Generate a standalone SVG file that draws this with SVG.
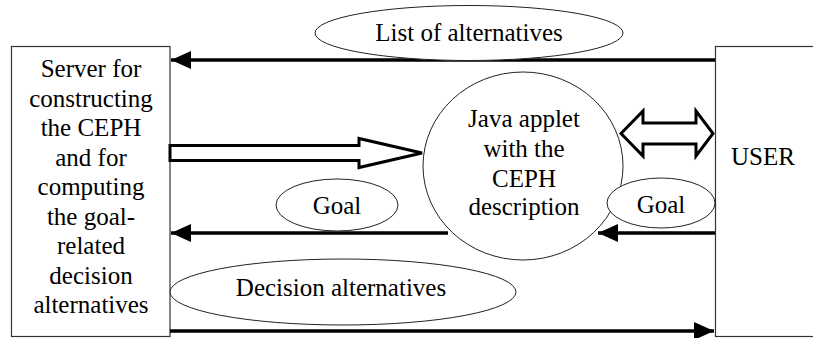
<svg xmlns="http://www.w3.org/2000/svg" width="813" height="338" viewBox="0 0 813 338">
  <defs>
    <style>
      .box { fill: #fff; stroke: #333; stroke-width: 1.2; }
      .oval { fill: #fff; stroke: #222; stroke-width: 1; }
      .lbl { font-family: 'Liberation Serif', 'DejaVu Serif', serif; font-size: 25px; fill: #000; text-anchor: middle; }
      .flow { fill: none; stroke: #000; stroke-width: 3.5; }
      .hollow { fill: #fff; stroke: #000; stroke-width: 3; stroke-linejoin: miter; }
    </style>
    <marker id="head" markerUnits="userSpaceOnUse" markerWidth="22" markerHeight="20" refX="20" refY="9" orient="auto">
      <path d="M0,0 L20,9 L0,18 Z" fill="#000"/>
    </marker>
  </defs>

  <rect width="813" height="338" fill="#fff"/>

  <!-- Server node -->
  <g id="server" font-family="Liberation Serif, serif">
    <rect class="box" x="11.5" y="46.5" width="158.5" height="290"/>
    <text class="lbl" x="91" y="77">Server for</text>
    <text class="lbl" x="91" y="106.5">constructing</text>
    <text class="lbl" x="91" y="136">the CEPH</text>
    <text class="lbl" x="91" y="165.5">and for</text>
    <text class="lbl" x="91" y="195">computing</text>
    <text class="lbl" x="91" y="224.5">the goal-</text>
    <text class="lbl" x="91" y="254">related</text>
    <text class="lbl" x="91" y="283.5">decision</text>
    <text class="lbl" x="91" y="313">alternatives</text>
  </g>

  <!-- User node -->
  <g id="user">
    <rect class="box" x="715.5" y="46.5" width="110" height="290"/>
    <text class="lbl" x="763" y="165">USER</text>
  </g>

  <!-- Connectors -->
  <g id="connectors">
    <line class="flow" x1="715" y1="60" x2="171" y2="60" marker-end="url(#head)"/>
    <line class="flow" x1="448" y1="233" x2="171" y2="233" marker-end="url(#head)"/>
    <line class="flow" x1="715" y1="233" x2="598" y2="233" marker-end="url(#head)"/>
    <line class="flow" x1="170" y1="331" x2="714" y2="331" marker-end="url(#head)"/>
    <!-- wide hollow arrow: server to applet -->
    <path class="hollow" d="M170,145.5 L359,145.5 L359,138.5 L422,153 L359,167.5 L359,160.5 L170,160.5 Z"/>
    <!-- two-way hollow arrow: applet and user -->
    <path class="hollow" d="M621,133.5 L643,111 L643,123 L696,123 L696,111 L713,133.5 L696,156 L696,144 L643,144 L643,156 Z"/>
  </g>

  <!-- Java applet node -->
  <g id="applet">
    <ellipse class="oval" cx="523" cy="166" rx="100" ry="94" style="fill:none"/>
    <text class="lbl" x="524" y="127">Java applet</text>
    <text class="lbl" x="524" y="157">with the</text>
    <text class="lbl" x="524" y="186.5">CEPH</text>
    <text class="lbl" x="524" y="215">description</text>
  </g>

  <!-- Edge labels -->
  <g id="label-list">
    <ellipse class="oval" cx="469" cy="33" rx="154" ry="27.5"/>
    <text class="lbl" x="469" y="41">List of alternatives</text>
  </g>
  <g id="label-goal-left">
    <ellipse class="oval" cx="337" cy="205" rx="61" ry="26"/>
    <text class="lbl" x="337" y="214">Goal</text>
  </g>
  <g id="label-goal-right">
    <ellipse class="oval" cx="661" cy="203" rx="54" ry="25"/>
    <text class="lbl" x="661" y="213">Goal</text>
  </g>
  <g id="label-decision">
    <ellipse class="oval" cx="343" cy="292" rx="173" ry="33"/>
    <text class="lbl" x="341" y="296">Decision alternatives</text>
  </g>
</svg>
